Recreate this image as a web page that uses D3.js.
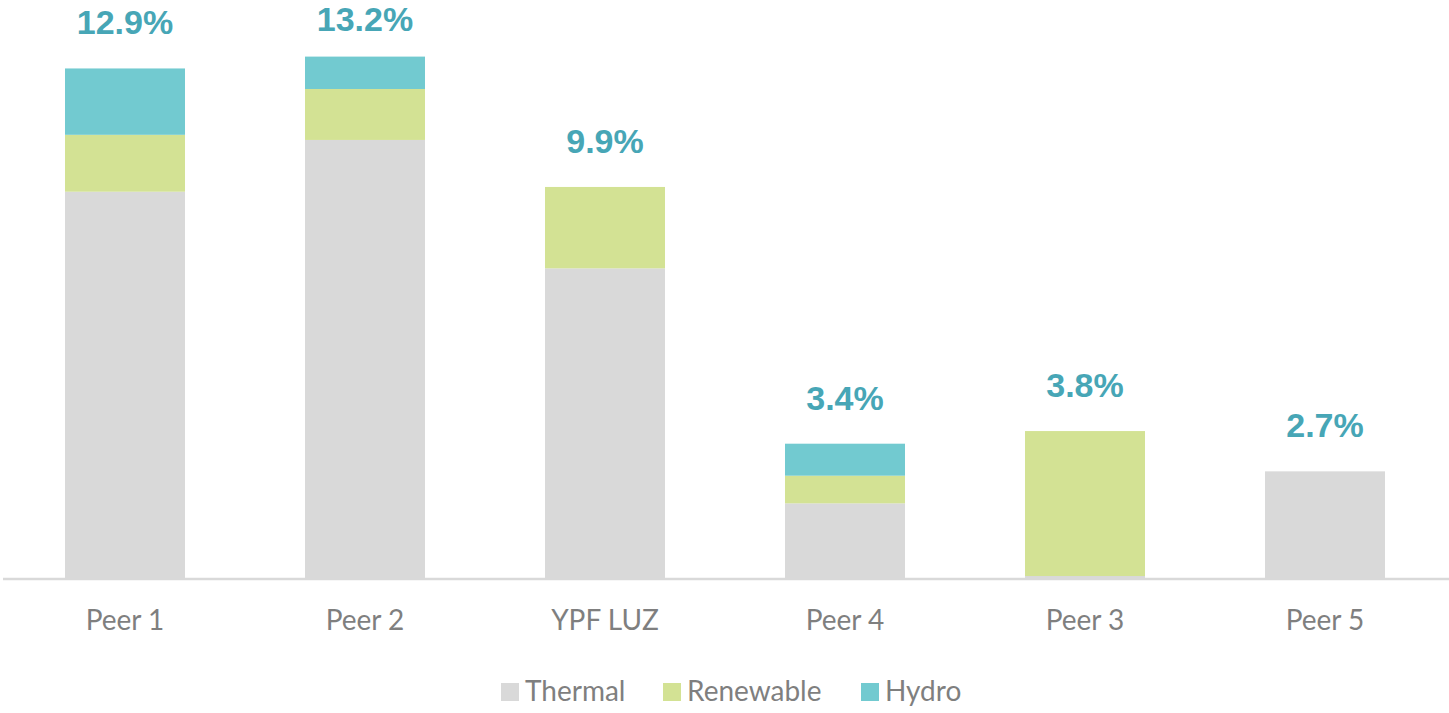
<!DOCTYPE html>
<html>
<head>
<meta charset="utf-8">
<script src="https://cdn.jsdelivr.net/npm/d3@7"></script>
<style>
  body { margin: 0; background: #fff; }
  svg { display: block; }
</style>
</head>
<body>
<div id="chart"></div>
<script>
// datos (%)
var categorias = ["Peer 1", "Peer 2", "YPF LUZ", "Peer 4", "Peer 3", "Peer 5"];
var thermal   = [9.78, 11.09, 7.84, 1.89, 0.05, 2.70];
var renewable = [1.44, 1.29, 2.06, 0.70, 3.67, 0];
var hydro     = [1.68, 0.82, 0, 0.81, 0, 0];
var etiquetas = ["12.9%", "13.2%", "9.9%", "3.4%", "3.8%", "2.7%"];
var series    = ["Thermal", "Renewable", "Hydro"];
var colores   = ["#d9d9d9", "#d3e294", "#72cad0"];

var width = 1449,
    height = 713,
    baseline = 578;

var svg = d3.select("#chart").append("svg")
    .attr("width", width)
    .attr("height", height);

var tabla = categorias.map(function (c, i) {
  return { cat: c, Thermal: thermal[i], Renewable: renewable[i], Hydro: hydro[i], label: etiquetas[i] };
});

var x = d3.scaleBand()
    .domain(categorias)
    .range([5, 1445])
    .paddingInner(0.5)
    .paddingOuter(0.25);

var y = d3.scaleLinear()
    .domain([0, 14])
    .range([baseline, baseline - 14 * 39.5]);

var color = d3.scaleOrdinal().domain(series).range(colores);

var stack = d3.stack().keys(series)(tabla);

// barras apiladas
svg.append("g").selectAll("g")
  .data(stack)
  .enter().append("g")
    .attr("fill", function (d) { return color(d.key); })
  .selectAll("rect")
  .data(function (d) { return d; })
  .enter().append("rect")
    .attr("x", function (d) { return x(d.data.cat); })
    .attr("y", function (d) { return y(d[1]); })
    .attr("width", x.bandwidth())
    .attr("height", function (d) { return y(d[0]) - y(d[1]); });

// eje x
var xAxis = svg.append("g")
    .attr("transform", "translate(0," + (baseline + 1) + ")")
    .call(d3.axisBottom(x).tickSize(0).tickPadding(31));
xAxis.select(".domain")
    .attr("d", "M3,0H1449")
    .attr("stroke", "#d9d9d9")
    .attr("stroke-width", 2.5);
xAxis.selectAll("text")
    .attr("fill", "#7f7f7f")
    .style("font-family", "Lato, 'Open Sans', sans-serif")
    .style("font-size", "28px");

// etiquetas de total
svg.append("g").selectAll("text")
  .data(tabla)
  .enter().append("text")
    .attr("x", function (d) { return x(d.cat) + x.bandwidth() / 2; })
    .attr("y", function (d) {
      var top = y(d.Thermal + d.Renewable + d.Hydro);
      return Math.max(top - 34, 31);
    })
    .attr("text-anchor", "middle")
    .attr("fill", "#47a6b6")
    .style("font-family", "'Liberation Sans', Arial, sans-serif")
    .style("font-weight", "bold")
    .style("font-size", "34px")
    .text(function (d) { return d.label; });

// leyenda
var posLeyenda = [501, 663, 861];
var leyenda = svg.append("g").selectAll("g")
  .data(series)
  .enter().append("g")
    .attr("transform", function (d, i) { return "translate(" + posLeyenda[i] + ",683)"; });
leyenda.append("rect")
    .attr("width", 18)
    .attr("height", 18)
    .attr("fill", function (d) { return color(d); });
leyenda.append("text")
    .attr("x", 24)
    .attr("y", 18)
    .attr("fill", "#7f7f7f")
    .style("font-family", "Lato, 'Open Sans', sans-serif")
    .style("font-size", "28px")
    .text(function (d) { return d; });
</script>
</body>
</html>
